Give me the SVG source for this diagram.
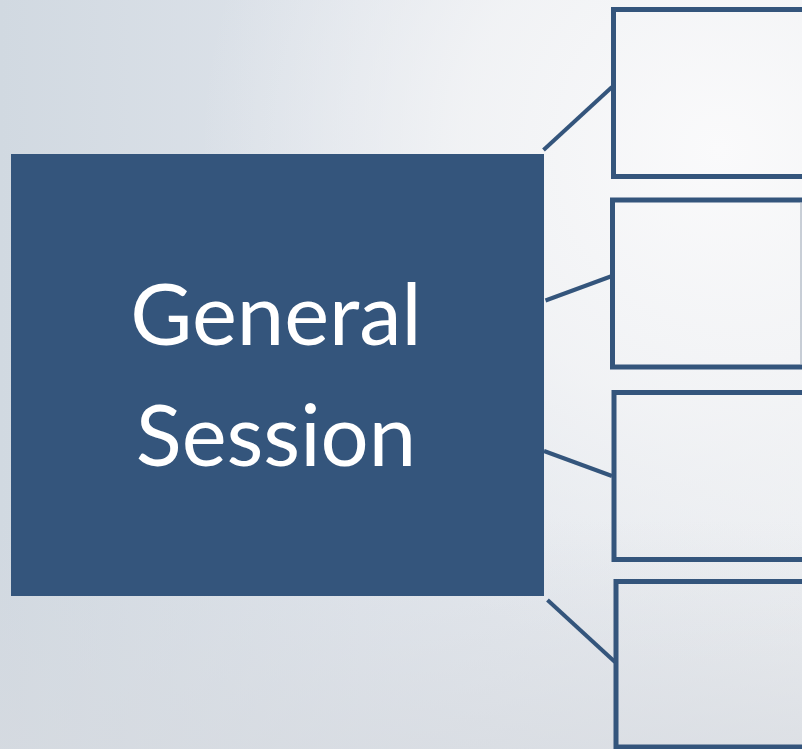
<svg xmlns="http://www.w3.org/2000/svg" width="802" height="749" viewBox="0 0 802 749">
  <defs>
    <linearGradient id="bgLin" x1="0" y1="0" x2="1" y2="0">
      <stop offset="0" stop-color="#d1d9e1"/>
      <stop offset="0.45" stop-color="#dfe4eb"/>
      <stop offset="1" stop-color="#eceef1"/>
    </linearGradient>
    <radialGradient id="bgRad" cx="720" cy="150" r="520" gradientUnits="userSpaceOnUse">
      <stop offset="0" stop-color="#fafafb" stop-opacity="1"/>
      <stop offset="0.5" stop-color="#f3f4f6" stop-opacity="0.85"/>
      <stop offset="1" stop-color="#eef0f3" stop-opacity="0"/>
    </radialGradient>
    <linearGradient id="bgBottom" x1="0" y1="520" x2="0" y2="749" gradientUnits="userSpaceOnUse">
      <stop offset="0" stop-color="#d6dae0" stop-opacity="0"/>
      <stop offset="1" stop-color="#d6dae0" stop-opacity="0.7"/>
    </linearGradient>
    <style>
      .conn { stroke: #34557c; stroke-width: 4; fill: none; }
      .box { fill: none; stroke: #34557c; stroke-width: 5; }
      .main { fill: #34557c; }
      .label { font-family: Lato, "Open Sans", "Liberation Sans", sans-serif; font-size: 85px; fill: #ffffff; text-anchor: middle; }
    </style>
  </defs>

  <rect x="0" y="0" width="802" height="749" fill="url(#bgLin)"/>
  <rect x="0" y="0" width="802" height="749" fill="url(#bgRad)"/>
  <rect x="0" y="520" width="802" height="229" fill="url(#bgBottom)"/>

  <g id="connectors">
    <line class="conn" x1="543.5" y1="150" x2="612" y2="87"/>
    <line class="conn" x1="545.5" y1="300.5" x2="612" y2="276"/>
    <line class="conn" x1="544" y1="451" x2="612" y2="476"/>
    <line class="conn" x1="547.5" y1="600" x2="615" y2="662"/>
  </g>

  <g id="node-general-session">
    <rect class="main" x="11" y="154" width="533" height="442"/>
    <text class="label" x="276" y="345">General</text>
    <text class="label" x="276" y="466">Session</text>
  </g>

  <g id="node-box-1">
    <rect class="box" x="613.5" y="9.5" width="260" height="167"/>
  </g>
  <g id="node-box-2">
    <rect class="box" x="612.5" y="200" width="260" height="167"/>
    <line x1="801" y1="203" x2="801" y2="364" stroke="#9aa6b5" stroke-width="1"/>
  </g>
  <g id="node-box-3">
    <rect class="box" x="614" y="392.5" width="260" height="167"/>
  </g>
  <g id="node-box-4">
    <rect class="box" x="616" y="581.5" width="260" height="165.5"/>
  </g>
</svg>
